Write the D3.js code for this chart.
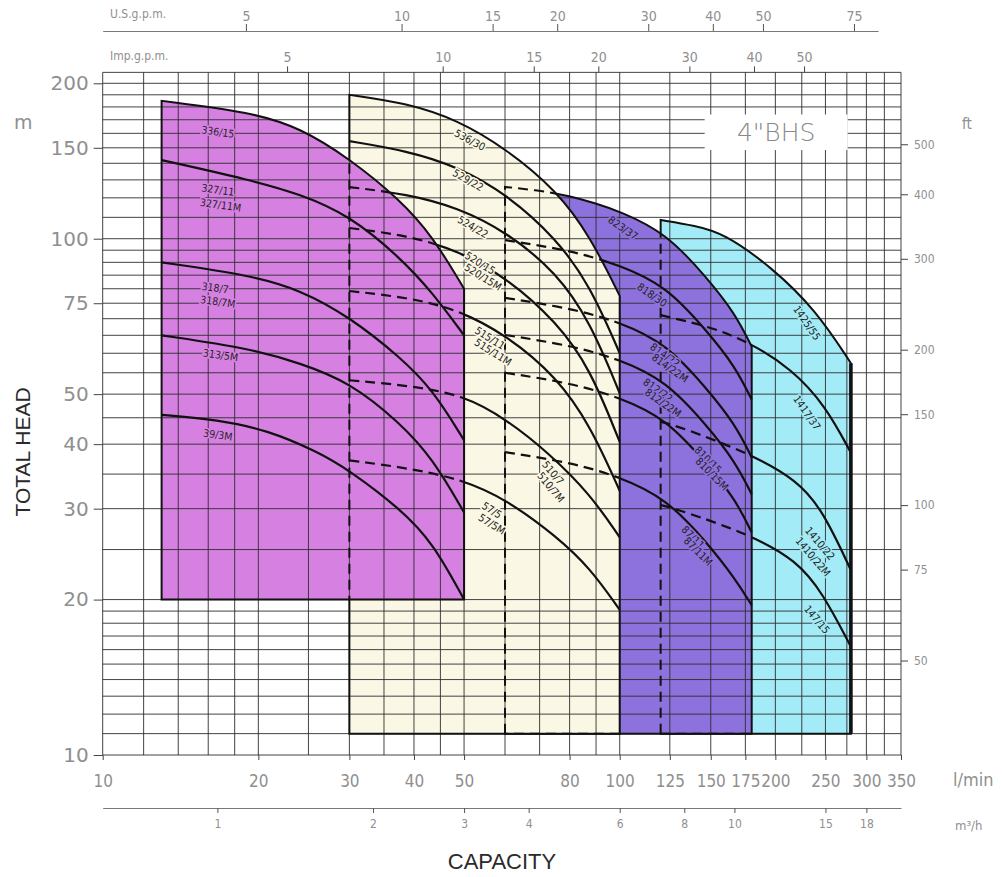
<!DOCTYPE html>
<html>
<head>
<meta charset="utf-8">
<script src="https://cdn.jsdelivr.net/npm/d3@7"></script>
<style>
  body { margin: 0; background: #fff; }
  svg { display: block; }
</style>
</head>
<body>
<div id="wrapper"></div>
<script>
// grid lines, l/min and m
const gridFlows = [10, 12, 14, 16, 18, 20, 25, 30, 35, 40, 45, 50, 60, 70, 80, 90, 100, 125, 150, 175, 200, 225, 250, 275, 300, 325, 350];
const gridHeads = [10, 11, 12, 13, 14, 15, 16, 17, 18, 19, 20, 25, 30, 35, 40, 45, 50, 55, 60, 65, 70, 75, 80, 85, 90, 95, 100,
    110, 120, 130, 140, 150, 160, 170, 180, 190, 200, 210];

// tick labels
const flowTicks = [10, 20, 30, 40, 50, 80, 100, 125, 150, 175, 200, 250, 300, 350];
const headTicks = [10, 20, 30, 40, 50, 75, 100, 150, 200];
const feetTicks = [50, 75, 100, 150, 200, 300, 400, 500];
const usGpmTicks = [5, 10, 15, 20, 30, 40, 50, 75];
const impGpmTicks = [5, 10, 15, 20, 30, 40, 50];
const cubicTicks = [1, 2, 3, 4, 6, 8, 10, 15, 18];

// pump families: flow range (l/min) and lowest head (m)
const familyFlowMin = [13, 30, 60, 120];
const familyFlowMax = [50, 100, 180, 280];
const familyHeadMin = [20, 11, 11, 11];

// curves as [l/min, m]; the first curve of a family is its upper edge
const curves3 = [
    [[13, 185], [19.3, 176], [24.1, 164], [30, 143], [37.6, 119], [43.5, 101], [50, 80]],
    [[13, 142], [19.3, 130], [24.1, 122], [30, 111], [37.6, 92], [43.5, 78.5], [50, 65]],
    [[13, 90], [19.3, 85], [24.1, 79.6], [30, 70.6], [37.6, 59], [43.5, 51], [50, 40.7]],
    [[13, 65], [19.3, 61.3], [24.1, 57.4], [30, 52.8], [37.6, 44], [43.5, 37.5], [50, 29.5]],
    [[13, 45.6], [16.7, 44.6], [20.8, 42.6], [26, 38.7], [30, 35.6], [37.6, 30], [43.5, 25.8], [50, 20]],
];
const curves5 = [
    [[30, 190], [38.8, 183], [48.5, 170], [60.5, 149], [75.5, 124], [87.7, 101], [100, 77.5]],
    [[30, 154.5], [38.8, 148], [48.5, 138], [60.5, 122], [75.5, 100], [87.7, 81], [100, 60]],
    [[30, 125.9], [38.8, 122], [48.5, 115], [60.5, 103], [75.5, 86], [87.7, 69], [100, 50.2]],
    [[30, 104.9], [38.8, 101.5], [48.5, 95], [60.5, 84], [75.5, 69], [87.7, 56], [100, 40.4]],
    [[30, 79.2], [38.8, 77], [48.5, 73], [60.5, 65], [75.5, 54], [87.7, 43.5], [100, 32.5]],
    [[30, 53.2], [38.8, 52], [50, 49.8], [60.5, 44.6], [72.6, 38.6], [87.7, 32], [100, 26.4]],
    [[30, 37.2], [38.8, 36], [50, 34.1], [60.5, 31.2], [75.5, 26.5], [87.7, 23], [100, 19.1]],
];
const curves8 = [
    [[60, 126], [70, 124], [80, 121], [90, 117], [100, 113], [123, 102.6], [147, 84.3], [167, 71.8], [180, 61.8]],
    [[60, 99.4], [80, 95], [100, 89], [123, 81], [147, 66.5], [167, 56.7], [180, 48.8]],
    [[60, 76.8], [80, 73.4], [100, 69], [123, 62.6], [147, 51.4], [167, 43.8], [180, 37.7]],
    [[60, 65.1], [80, 62.2], [100, 58.4], [123, 53], [147, 43.6], [167, 37.1], [180, 32]],
    [[60, 55], [80, 52.6], [100, 49.3], [123, 44.8], [147, 36.8], [167, 31.4], [180, 27]],
    [[60, 38.6], [80, 36.9], [100, 34.6], [123, 31.4], [147, 25.9], [167, 22], [180, 19.5]],
];
const curves14 = [
    [[120, 108.7], [140, 106], [159, 102.5], [197, 88], [240, 72.6], [280, 57.4]],
    [[120, 71.1], [150, 67.5], [178, 63], [215, 56], [250, 47.5], [280, 38.5]],
    [[120, 44.2], [131, 43.2], [179, 38.3], [220, 34.1], [247, 29.8], [280, 22.8]],
    [[120, 30.5], [131, 29.8], [179, 26.7], [220, 23.8], [247, 20.6], [280, 16.2]],
];

// curve names: [text, l/min, m, angle]
const labels3 = [
    ["336/15", 16.7, 161, 8],
    ["327/11", 16.7, 124.3, 8], ["327/11M", 16.9, 116.2, 8],
    ["318/7", 16.5, 80.3, 8], ["318/7M", 16.7, 75.5, 8],
    ["313/5M", 16.9, 59.5, 8],
    ["39/3M", 16.7, 41.7, 8],
];
const labels5 = [
    ["536/30", 51.3, 155.3, 28],
    ["529/22", 50.9, 129.9, 30],
    ["524/22", 52, 105.4, 30],
    ["520/15", 53.7, 89.7, 32], ["520/15M", 54.4, 84.3, 32],
    ["515/11", 56.1, 64.2, 32], ["515/11M", 56.9, 60.3, 32],
    ["510/7", 74.3, 35.2, 50], ["510/7M", 73.6, 33.0, 50],
    ["57/5", 56.6, 29.8, 32], ["57/5M", 56.6, 28.0, 32],
];
const labels8 = [
    ["823/37", 101.5, 104.9, 35],
    ["818/30", 115.5, 77.8, 35],
    ["814/22", 122.4, 59.5, 35], ["814/22M", 125.1, 56.2, 35],
    ["812/22", 118.6, 50.9, 35], ["812/22M", 121.3, 48.1, 35],
    ["810/15", 148.2, 37.3, 45], ["810/15M", 150.9, 35.0, 45],
    ["87/11", 138.6, 26.4, 45], ["87/11M", 141.8, 24.8, 45],
];
const labels14 = [
    ["1425/55", 230.3, 68.7, 55],
    ["1417/37", 230.3, 46.0, 55],
    ["1410/22", 244, 25.7, 50], ["1410/22M", 236.6, 24.2, 50],
    ["147/15", 240.7, 18.3, 50],
];

const FAMILY_FILLS = ["#d680e2", "#fbf7e5", "#8d71dc", "#a3ebf6"];
const CURVE_COLOR = "#111";
const GRID_COLOR = "#2e2e2e";
const AXIS_TEXT = "#8f8f8f";
const NUM_FONT = "'DejaVu Sans Condensed', 'DejaVu Sans', sans-serif";
const WIDE_FONT = "'DejaVu Sans', sans-serif";
const TITLE_FONT = "'Liberation Sans', Arial, sans-serif";

const width = 1002;
const height = 877;

const families = [curves3, curves5, curves8, curves14];
const familyLabels = [labels3, labels5, labels8, labels14];

const xScale = d3.scaleLog().domain([10, 350]).range([102.7, 901]);
const yScale = d3.scaleLog().domain([10, 200]).range([755, 83.3]);
const GRID_TOP = 210;

const wrapper = d3.select("#wrapper")
    .append("svg")
    .attr("width", width)
    .attr("height", height);

const line = d3.line()
    .x(d => xScale(d[0]))
    .y(d => yScale(d[1]))
    .curve(d3.curveBasis);

function regionPath(i) {
    const xl = xScale(familyFlowMin[i]);
    const xr = xScale(familyFlowMax[i]);
    const yb = yScale(familyHeadMin[i]);
    return `M${xl},${yb}` + line(families[i][0]).replace(/^M/, "L") + `L${xr},${yb}Z`;
}

// masks: a family is hidden (dashed) where an earlier family lies on top of it
const defs = wrapper.append("defs");
families.forEach((_, i) => {
    const vis = defs.append("mask").attr("id", `vis${i}`)
        .attr("maskUnits", "userSpaceOnUse")
        .attr("x", 0).attr("y", 0).attr("width", width).attr("height", height);
    vis.append("rect").attr("width", width).attr("height", height).attr("fill", "white");
    const hid = defs.append("mask").attr("id", `hid${i}`)
        .attr("maskUnits", "userSpaceOnUse")
        .attr("x", 0).attr("y", 0).attr("width", width).attr("height", height);
    hid.append("rect").attr("width", width).attr("height", height).attr("fill", "black");
    for (let j = 0; j < i; j++) {
        vis.append("path").attr("d", regionPath(j)).attr("fill", "black");
        hid.append("path").attr("d", regionPath(j)).attr("fill", "white");
    }
});

// fills, bottom family first
const fills = wrapper.append("g");
[3, 2, 1, 0].forEach(i => {
    fills.append("path")
        .attr("d", regionPath(i))
        .attr("fill", FAMILY_FILLS[i]);
});

// grid
const grid = wrapper.append("g")
    .attr("stroke", GRID_COLOR)
    .attr("stroke-width", 0.9);

grid.selectAll(".vgrid")
    .data(gridFlows)
    .join("line")
    .attr("x1", d => xScale(d))
    .attr("x2", d => xScale(d))
    .attr("y1", yScale(GRID_TOP))
    .attr("y2", yScale(10));

grid.selectAll(".hgrid")
    .data(gridHeads)
    .join("line")
    .attr("class", "hgrid")
    .attr("x1", xScale(10))
    .attr("x2", xScale(350))
    .attr("y1", d => yScale(d))
    .attr("y2", d => yScale(d));

// model badge
const badgeX0 = xScale(146), badgeX1 = xScale(276);
const badgeY0 = yScale(174), badgeY1 = yScale(148.5);
wrapper.append("rect")
    .attr("x", badgeX0)
    .attr("y", badgeY0)
    .attr("width", badgeX1 - badgeX0)
    .attr("height", badgeY1 - badgeY0)
    .attr("fill", "#fff");
wrapper.append("text")
    .attr("x", (badgeX0 + badgeX1) / 2)
    .attr("y", (badgeY0 + badgeY1) / 2 + 9)
    .attr("text-anchor", "middle")
    .style("font-family", WIDE_FONT)
    .style("font-weight", 200)
    .style("font-size", "25px")
    .attr("fill", "#8a8a8a")
    .text("4\"BHS");

// curves and outlines
families.forEach((curves, i) => {
    const draw = (g, dashed) => {
        g.append("path")
            .attr("d", regionPath(i))
            .attr("fill", "none")
            .attr("stroke", CURVE_COLOR)
            .attr("stroke-width", 2)
            .attr("stroke-dasharray", dashed ? "10,6" : null);
        g.selectAll(".curve")
            .data(curves.slice(1))
            .join("path")
            .attr("d", line)
            .attr("fill", "none")
            .attr("stroke", CURVE_COLOR)
            .attr("stroke-width", 2.2)
            .attr("stroke-dasharray", dashed ? "10,6" : null);
    };
    draw(wrapper.append("g").attr("mask", `url(#vis${i})`), false);
    if (i > 0) draw(wrapper.append("g").attr("mask", `url(#hid${i})`), true);
});

// heavier right edge of the 14" family
wrapper.append("line")
    .attr("x1", xScale(familyFlowMax[3]))
    .attr("x2", xScale(familyFlowMax[3]))
    .attr("y1", yScale(curves14[0][curves14[0].length - 1][1]))
    .attr("y2", yScale(familyHeadMin[3]))
    .attr("stroke", CURVE_COLOR)
    .attr("stroke-width", 3.6);

// curve names
familyLabels.forEach((labels, i) => {
    wrapper.append("g")
        .selectAll("text")
        .data(labels)
        .join("text")
        .attr("transform", d => `translate(${xScale(d[1])},${yScale(d[2])}) rotate(${d[3]})`)
        .attr("text-anchor", "middle")
        .attr("dy", "0.35em")
        .style("font-family", NUM_FONT)
        .style("font-size", "10.5px")
        .attr("fill", "#222")
        .attr("stroke", FAMILY_FILLS[i])
        .attr("stroke-width", 3)
        .attr("paint-order", "stroke")
        .text(d => d[0]);
});

// axes
function styleAxis(g, size, font) {
    g.select(".domain").remove();
    g.selectAll("line").attr("stroke", "#444");
    g.selectAll("text")
        .style("font-family", font || NUM_FONT)
        .style("font-size", size)
        .attr("fill", AXIS_TEXT);
}

const leftAxis = wrapper.append("g")
    .attr("transform", `translate(${xScale(10)},0)`)
    .call(d3.axisLeft(yScale).tickValues(headTicks).tickFormat(d3.format("d")).tickSize(9).tickPadding(5));
styleAxis(leftAxis, "20px", WIDE_FONT);

const feetScale = d3.scaleLog()
    .domain(yScale.domain().map(d => d / 0.3048))
    .range(yScale.range());
const rightAxis = wrapper.append("g")
    .attr("transform", `translate(${xScale(350)},0)`)
    .call(d3.axisRight(feetScale).tickValues(feetTicks).tickFormat(d3.format("d")).tickSize(7).tickPadding(6));
styleAxis(rightAxis, "12px");

const bottomAxis = wrapper.append("g")
    .attr("transform", `translate(0,${yScale(10)})`)
    .call(d3.axisBottom(xScale).tickValues(flowTicks).tickFormat(d3.format("d")).tickSize(5).tickPadding(15));
styleAxis(bottomAxis, "17px");

const cubicScale = d3.scaleLog()
    .domain(xScale.domain().map(d => d * 0.06))
    .range(xScale.range());
const cubicAxis = wrapper.append("g")
    .attr("transform", "translate(0,808)")
    .call(d3.axisBottom(cubicScale).tickValues(cubicTicks).tickFormat(d3.format("d")).tickSize(5).tickPadding(6).tickSizeOuter(0));
cubicAxis.selectAll("line").attr("stroke", "#555");
cubicAxis.select(".domain").attr("stroke", "#555").attr("stroke-width", 0.8);
cubicAxis.selectAll("text")
    .style("font-family", NUM_FONT)
    .style("font-size", "12px")
    .attr("fill", AXIS_TEXT);

const usScale = d3.scaleLog()
    .domain([10 / 3.785, 316 / 3.785])
    .range([xScale(10), xScale(316)]);
const usAxis = wrapper.append("g")
    .attr("transform", "translate(0,31)")
    .call(d3.axisTop(usScale).tickValues(usGpmTicks).tickFormat(d3.format("d")).tickSize(7).tickPadding(3).tickSizeOuter(0));
usAxis.selectAll("line").attr("stroke", "#555");
usAxis.select(".domain").attr("stroke", "#555").attr("stroke-width", 0.8);
usAxis.selectAll("text")
    .style("font-family", NUM_FONT)
    .style("font-size", "14px")
    .attr("fill", AXIS_TEXT);

const impScale = d3.scaleLog()
    .domain(xScale.domain().map(d => d / 4.546))
    .range(xScale.range());
const impAxis = wrapper.append("g")
    .attr("transform", `translate(0,${yScale(GRID_TOP)})`)
    .call(d3.axisTop(impScale).tickValues(impGpmTicks).tickFormat(d3.format("d")).tickSize(6).tickPadding(4));
styleAxis(impAxis, "14px");

// unit and title texts
const unitText = (x, y, txt, size, font) => wrapper.append("text")
    .attr("x", x).attr("y", y)
    .style("font-family", font || NUM_FONT)
    .style("font-size", size)
    .attr("fill", AXIS_TEXT)
    .text(txt);

unitText(110, 18, "U.S.g.p.m.", "12px");
unitText(110, 60, "Imp.g.p.m.", "12px");
unitText(14, 129, "m", "19px", WIDE_FONT);
unitText(962, 129, "ft", "15px");
unitText(953, 786, "l/min", "18px");
unitText(955, 830, "m³/h", "13px");

wrapper.append("text")
    .attr("transform", `translate(30,${452}) rotate(-90)`)
    .attr("text-anchor", "middle")
    .style("font-family", TITLE_FONT)
    .style("font-size", "21px")
    .attr("fill", "#2a2a2a")
    .text("TOTAL HEAD");

wrapper.append("text")
    .attr("x", 502)
    .attr("y", 869)
    .attr("text-anchor", "middle")
    .style("font-family", TITLE_FONT)
    .style("font-size", "22px")
    .attr("fill", "#2a2a2a")
    .text("CAPACITY");
</script>
</body>
</html>
